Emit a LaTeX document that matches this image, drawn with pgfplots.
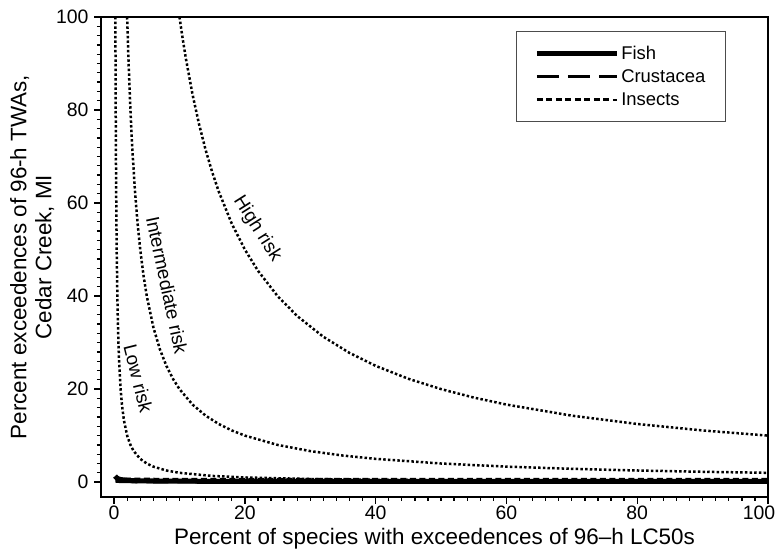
\documentclass[border=0pt]{standalone}
\usepackage{fontspec}
\setmainfont{Liberation Sans}
\usepackage{pgfplots}
\pgfplotsset{compat=1.18}
\begin{document}
\begin{tikzpicture}
\begin{axis}[
  name=main,
  scale only axis,
  width=667bp, height=480bp,
  xmin=-2, xmax=100, ymin=-3.2, ymax=100,
  xtick={0,20,...,80}, ytick={0,20,...,100},
  extra x ticks={100},
  extra x tick style={xticklabel style={xshift=-9bp}},
  minor xtick={0,2,...,100}, minor y tick num=9,
  tick align=outside, tick pos=left,
  major tick length=7bp, minor tick length=4bp,
  every tick/.style={black, line width=1.3bp},
  axis line style={line width=1.6bp},
  /pgf/number format/assume math mode=true,
  ticklabel style={font=\fontsize{19.5}{22}\selectfont},
  xticklabel style={yshift=2bp},
  yticklabel style={xshift=-2bp},
  xlabel={Percent of species with exceedences of 96\textendash h LC50s},
  ylabel={Percent exceedences of 96-h TWAs,\\Cedar Creek, MI},
  ylabel style={align=center, font=\fontsize{22.5}{25}\selectfont, yshift=-5bp},
  xlabel style={font=\fontsize{22.5}{24}\selectfont, at={(rel axis cs:0.5,0)}, anchor=base, yshift=-47bp},
  legend style={at={(0.622,0.971)}, anchor=north west, draw=black!70, line width=0.8bp,
    font=\fontsize{18.5}{22}\selectfont, inner xsep=18bp, inner ysep=13bp, row sep=4.5bp},
  legend cell align=left,
  legend image code/.code={\draw[#1, line width=2.6bp] (0bp,0bp) -- (73bp,0bp); \path (0bp,0bp) -- (80bp,0bp);},
  clip=true,
]
\addplot[black, line width=5bp] coordinates {(0.15,1.3) (0.3,1.05) (0.5,0.8) (1,0.55) (2,0.4) (3,0.3) (5,0.25) (10,0.2) (20,0.15) (40,0.15) (100,0.15)};
\addlegendentry{Fish}
\addplot[black, line width=3bp, dash pattern=on 22bp off 9bp] coordinates {(0.2,0.2) (1,0.1) (5,0.05) (20,0.0) (100,0.0)};
\addlegendentry{Crustacea}
\addplot[black, line width=2bp, dash pattern=on 6bp off 3.5bp] coordinates {(0.2,0.8) (2,0.75) (10,0.7) (50,0.7) (100,0.7)};
\addlegendentry{Insects}
% risk curves
\addplot[black, line width=2.5bp, dash pattern=on 2.5bp off 2.2bp, forget plot] coordinates {
(10,100) (10.5,95.24) (11,90.91) (12,83.33) (13,76.92) (14,71.43) (15,66.67) (16,62.5) (18,55.56) (20,50) (22,45.45) (25,40) (28,35.71) (32,31.25) (36,27.78) (40,25) (45,22.22) (50,20) (55,18.18) (60,16.67) (70,14.29) (80,12.5) (90,11.11) (100,10)};
\addplot[black, line width=2.5bp, dash pattern=on 2.5bp off 2.2bp, forget plot] coordinates {
(2,100) (2.2,90.91) (2.5,80) (2.8,71.43) (3.2,62.5) (3.6,55.56) (4,50) (4.5,44.44) (5,40) (6,33.33) (7,28.57) (8,25) (9,22.22) (10,20) (12,16.67) (14,14.29) (16,12.5) (18,11.11) (20,10) (25,8) (30,6.67) (35,5.71) (40,5) (50,4) (60,3.33) (70,2.86) (80,2.5) (90,2.22) (100,2)};
\addplot[black, line width=2.5bp, dash pattern=on 2.5bp off 2.2bp, forget plot] coordinates {
(0.2,100) (0.22,90.91) (0.25,80) (0.3,66.67) (0.35,57.14) (0.4,50) (0.5,40) (0.6,33.33) (0.7,28.57) (0.8,25) (1,20) (1.2,16.67) (1.5,13.33) (2,10) (2.5,8) (3,6.67) (4,5) (5,4) (6,3.33) (8,2.5) (10,2) (15,1.33) (20,1) (30,0.67) (40,0.5) (60,0.33) (80,0.25) (100,0.2)};
\node[rotate=-57.6, font=\fontsize{19}{22}\selectfont] at (axis cs:21.9,54.5) {High risk};
\node[rotate=-78, font=\fontsize{19}{22}\selectfont] at (axis cs:8.1,42.3) {Intermediate risk};
\node[rotate=-76, font=\fontsize{19}{22}\selectfont] at (axis cs:3.7,22.3) {Low risk};
\end{axis}
\pgfresetboundingbox
\useasboundingbox ([xshift=-101bp,yshift=17bp]main.north west) rectangle ([xshift=8bp,yshift=-53bp]main.south east);
\end{tikzpicture}
\end{document}
